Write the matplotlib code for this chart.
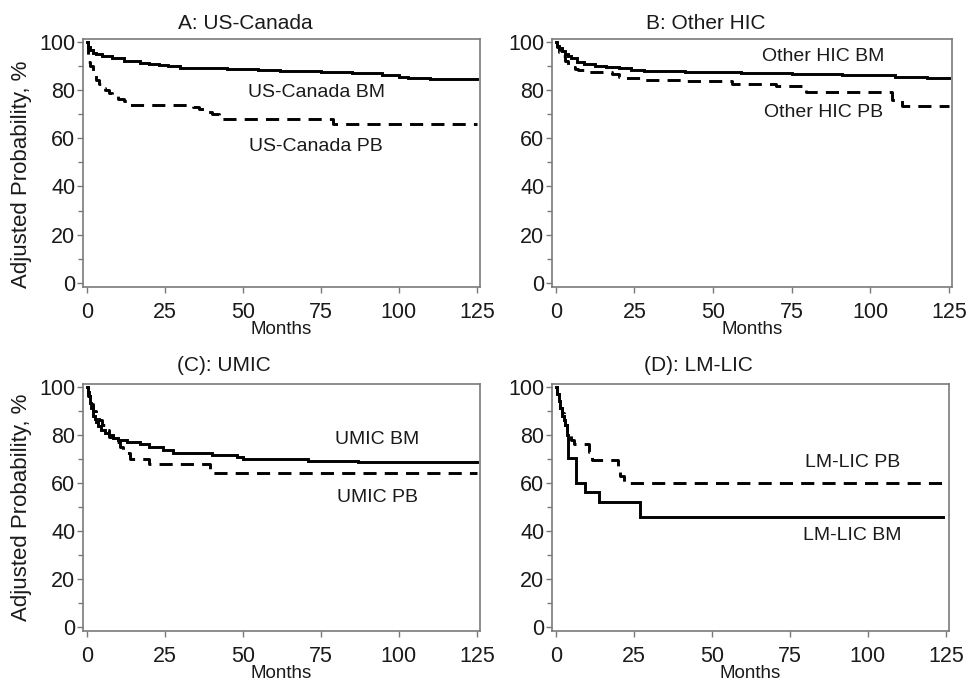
import matplotlib
matplotlib.use("Agg")
import matplotlib.pyplot as plt
from matplotlib.ticker import MultipleLocator

plt.rcParams['font.family'] = ['Liberation Sans', 'DejaVu Sans']

# ---------------- data ----------------
titles = ["A: US-Canada", "B: Other HIC", "(C): UMIC", "(D): LM-LIC"]

a_bm_t = [0, 0.5, 1, 2, 3, 5, 8, 12, 17, 20, 23, 26, 30, 45, 55, 62, 75, 85, 94.5, 100, 103, 110, 125]
a_bm_s = [100, 98, 96.5, 95.5, 94.8, 94, 93.2, 92.2, 91.3, 90.9, 90.5, 89.8, 89.2, 88.9, 88.4, 87.8, 87.4, 87.1, 86.3, 85.6, 85.0, 84.5, 84.5]
a_pb_t = [0, 0.3, 1, 2, 3, 4, 5, 6, 7, 8, 10, 12, 14, 34, 36, 38, 40, 42.5, 79, 125]
a_pb_s = [100, 91.5, 90, 87.5, 84, 82.5, 81, 80, 79, 77.5, 76.5, 75.5, 74, 73, 72, 71, 70, 68, 66, 66]

b_bm_t = [0, 0.5, 1, 2, 3, 4, 5, 6.7, 9, 12.4, 16, 20, 24, 28, 41, 59, 75, 91, 108, 118, 125]
b_bm_s = [100, 98.5, 97.5, 96.3, 95, 94.3, 93.5, 91.7, 90.8, 90, 89.6, 89.2, 88.5, 87.9, 87.5, 87.2, 86.7, 86.2, 85.4, 85, 85]
b_pb_t = [0, 0.5, 1, 2, 3, 4, 5, 6, 7, 9, 18, 20, 22, 27, 40, 56, 70, 79.5, 107, 110, 125]
b_pb_s = [100, 98, 96, 94, 92, 90.5, 89.5, 88.8, 88.2, 87.5, 86.5, 85.5, 85, 84.3, 83.8, 82.5, 81.5, 79.3, 76, 73.5, 73.5]

c_bm_t = [0, 0.3, 0.6, 1, 1.5, 2, 2.5, 3, 3.5, 4.5, 5.8, 7, 8.3, 10, 12.8, 17, 20, 24.3, 27.5, 40, 48, 50, 71, 87, 125]
c_bm_s = [100, 98, 96, 93.4, 91, 88, 86.5, 85.5, 83.9, 82, 80.6, 79.8, 78.9, 78, 76.9, 76.4, 74.8, 73.6, 72.3, 71.5, 70.7, 69.8, 69.0, 68.5, 68.5]
c_pb_t = [0, 0.5, 1, 2, 3, 4, 5, 6, 7, 9, 10.5, 11.5, 14, 20, 39.5, 125]
c_pb_s = [100, 96, 93, 90, 88, 86, 84, 82, 79, 77, 75, 72.5, 70, 68, 64, 64]

d_bm_t = [0, 0.5, 1.0, 1.5, 2.0, 2.5, 3.0, 3.5, 4.0, 6.6, 9.5, 13.7, 27.0, 124]
d_bm_s = [100, 97, 94, 91, 88, 86, 84, 80, 70.5, 60, 56, 52, 46, 46]
d_pb_t = [0, 0.5, 1, 1.5, 2, 2.5, 3, 3.5, 5, 6, 10.5, 11.5, 20, 20.5, 22, 125]
d_pb_s = [100, 97, 94, 91, 89, 87, 84, 81, 78, 76, 73, 69.5, 67, 63, 60, 60]

series = [
    ((a_bm_t, a_bm_s), (a_pb_t, a_pb_s)),
    ((b_bm_t, b_bm_s), (b_pb_t, b_pb_s)),
    ((c_bm_t, c_bm_s), (c_pb_t, c_pb_s)),
    ((d_bm_t, d_bm_s), (d_pb_t, d_pb_s)),
]

labels = [
    [("US-Canada BM", 73.5, 79), ("US-Canada PB", 73.5, 56.5)],
    [("Other HIC BM", 85, 94), ("Other HIC PB", 85, 70.5)],
    [("UMIC BM", 93, 78), ("UMIC PB", 93, 54)],
    [("LM-LIC PB", 95, 68.5), ("LM-LIC BM", 95, 38)],
]

x_ticks = [0, 25, 50, 75, 100, 125]
y_ticks = [0, 20, 40, 60, 80, 100]

# ---------------- layout ----------------
W, H = 968, 686
fig = plt.figure(figsize=(W / 100, H / 100), dpi=100)

boxes = [
    (83, 39, 480, 287),
    (552, 39, 952, 287),
    (83, 384, 480, 631),
    (552, 384, 949, 631),
]
title_x = [0.41, 0.385, 0.355, 0.37]
title_y = [1.062, 1.062, 1.075, 1.075]
ylabel_y = [0.456, None, 0.5, None]

txt = "#1a1a1a"
frame = "#7a7a7a"

for i, (x0, y0, x1, y1) in enumerate(boxes):
    ax = fig.add_axes([x0 / W, 1 - y1 / H, (x1 - x0) / W, (y1 - y0) / H])
    (bt, bs), (pt, ps) = series[i]
    ax.plot(bt, bs, drawstyle="steps-post", color="black", lw=2.1, solid_joinstyle="miter")
    ax.plot(pt, ps, drawstyle="steps-post", color="black", lw=2.1,
            linestyle=(0, (4.5, 2.8)))
    for (s, lx, ly) in labels[i]:
        ax.text(lx, ly, s, ha="center", va="center", fontsize=14, color=txt)
    ax.set_xlim(-1.2, 126)
    ax.set_ylim(-1.7, 101.2)
    ax.set_xticks(x_ticks)
    ax.set_yticks(y_ticks)
    ax.yaxis.set_minor_locator(MultipleLocator(10))
    ax.tick_params(axis="both", which="major", direction="out", length=4.5,
                   width=1, color=frame, labelsize=15.5, labelcolor=txt)
    ax.tick_params(axis="y", which="minor", direction="out", length=3.5, width=1, color=frame)
    ax.tick_params(axis="y", which="major", pad=1)
    ax.tick_params(axis="x", which="major", pad=6)
    for sp in ax.spines.values():
        sp.set_color(frame)
        sp.set_linewidth(1.2)
    ax.set_xlabel("Months", fontsize=13.5, color=txt, labelpad=-1.5)
    if ylabel_y[i] is not None:
        ax.set_ylabel("Adjusted Probability, %", fontsize=16, color=txt)
        ax.yaxis.set_label_coords(-0.128, ylabel_y[i])
    ax.text(title_x[i], title_y[i], titles[i], transform=ax.transAxes, ha="center",
            va="center", fontsize=15, color=txt)

fig.savefig("out.png", dpi=100)
